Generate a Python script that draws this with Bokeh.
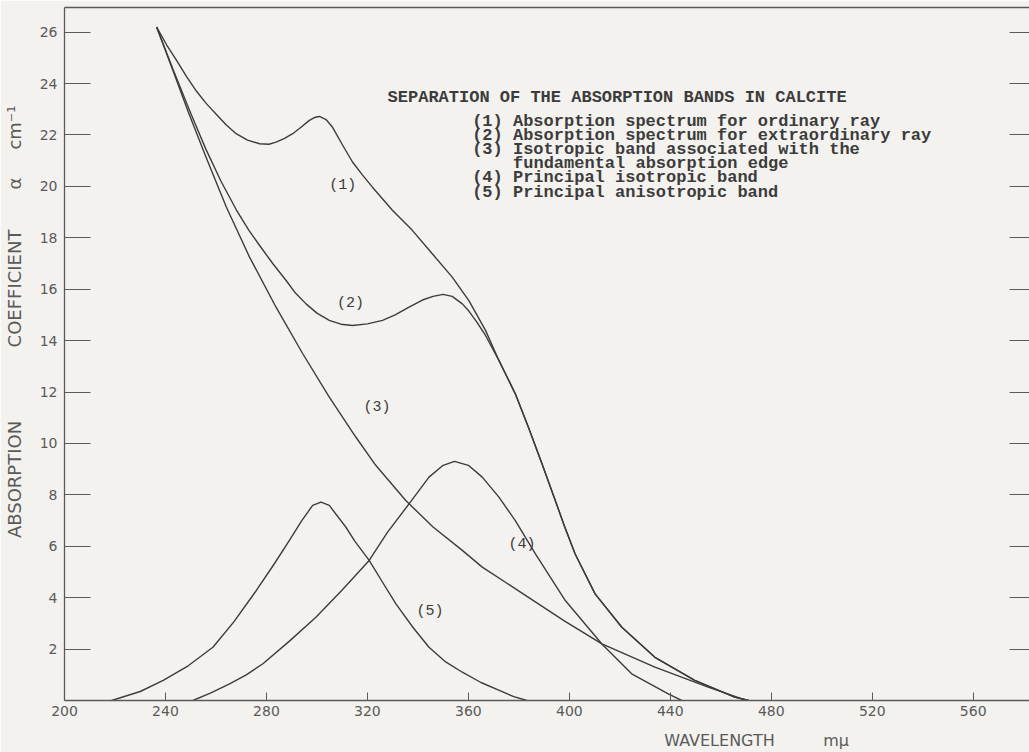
from bokeh.plotting import figure
from bokeh.models import LinearAxis, FixedTicker, Range1d
from bokeh.embed import file_html
from bokeh.resources import INLINE
from bokeh.core.properties import value

# ---------------- data ----------------
# wavelength in m-mu, absorption coefficient in cm^-1
ord_x = [236.5, 240.5, 244.4, 248.3, 252.3, 256.2, 260.2, 264.0, 268.0, 272.5, 277.3,
         281.0, 283.8, 287.0, 290.4, 293.7, 297.0, 299.0, 301.0, 303.6, 306.2, 310.2,
         314.1, 318.0, 322.0, 329.9, 337.8, 345.7, 353.6, 360.2, 366.8, 372.1, 378.6,
         383.9, 389.2, 394.0, 398.0, 402.3, 410.2, 420.8, 433.9, 449.7, 465.5, 471.0]
ord_y = [26.2, 25.5, 24.9, 24.28, 23.7, 23.22, 22.8, 22.4, 22.05, 21.8, 21.66,
         21.64, 21.72, 21.86, 22.05, 22.3, 22.57, 22.68, 22.72, 22.6, 22.3, 21.6,
         20.95, 20.45, 19.97, 19.07, 18.29, 17.38, 16.47, 15.56, 14.4, 13.23, 11.93,
         10.6, 9.2, 7.9, 6.8, 5.7, 4.15, 2.85, 1.68, 0.78, 0.13, 0.0]

ext_x = [236.5, 243.0, 250.0, 256.0, 262.0, 268.0, 273.0, 277.3, 282.5, 287.8, 291.5,
         295.7, 300.0, 304.9, 309.5, 314.1, 320.0, 326.0, 331.0, 336.5, 341.8, 346.0,
         350.0, 353.6, 357.6, 360.2, 363.5, 366.8, 372.1, 378.6, 383.9, 389.2, 394.0,
         398.0, 402.3, 410.2, 420.8, 433.9, 449.7, 465.5, 471.0]
ext_y = [26.2, 24.55, 22.85, 21.45, 20.2, 19.1, 18.3, 17.7, 17.0, 16.34, 15.85,
         15.43, 15.07, 14.79, 14.64, 14.59, 14.65, 14.79, 15.0, 15.3, 15.58, 15.72,
         15.8, 15.72, 15.43, 15.15, 14.7, 14.2, 13.23, 11.93, 10.6, 9.2, 7.9,
         6.8, 5.7, 4.15, 2.85, 1.68, 0.78, 0.13, 0.0]

iso_x = [236.5, 243.0, 249.0, 256.0, 264.1, 273.3, 283.8, 294.4, 304.9, 315.4, 323.3,
         335.2, 346.0, 357.6, 365.5, 382.6, 398.0, 412.9, 433.9, 455.0, 468.2, 471.0]
iso_y = [26.2, 24.5, 22.9, 21.15, 19.2, 17.25, 15.3, 13.49, 11.8, 10.25, 9.15,
         7.78, 6.75, 5.84, 5.19, 4.09, 3.1, 2.2, 1.3, 0.52, 0.07, 0.0]

pib_x = [250.9, 258.0, 265.4, 272.0, 278.6, 289.0, 299.6, 310.0, 320.7, 328.0, 336.5,
         344.4, 350.0, 354.5, 360.0, 365.5, 372.1, 378.6, 386.5, 398.4, 412.9, 424.7,
         439.2, 444.5]
pib_y = [0.0, 0.3, 0.65, 1.0, 1.43, 2.3, 3.24, 4.3, 5.45, 6.55, 7.65,
         8.69, 9.15, 9.3, 9.15, 8.69, 7.91, 7.0, 5.71, 3.89, 2.2, 1.04,
         0.26, 0.0]

pab_x = [218.7, 230.0, 239.1, 249.0, 258.8, 267.0, 276.0, 283.0, 289.1, 294.0, 298.3,
         301.6, 304.9, 311.5, 315.0, 320.7, 326.0, 331.3, 338.0, 344.4, 351.0, 357.6,
         365.0, 372.0, 378.0, 383.2]
pab_y = [0.0, 0.35, 0.78, 1.35, 2.07, 3.05, 4.28, 5.3, 6.23, 7.0, 7.59,
         7.72, 7.59, 6.74, 6.2, 5.45, 4.6, 3.76, 2.85, 2.07, 1.5, 1.1,
         0.7, 0.4, 0.15, 0.0]

x_ticks = [200, 240, 280, 320, 360, 400, 440, 480, 520, 560]
y_ticks = [2, 4, 6, 8, 10, 12, 14, 16, 18, 20, 22, 24, 26]

title_text = "SEPARATION OF THE ABSORPTION BANDS IN CALCITE"
legend_lines = ["(1) Absorption spectrum for ordinary ray",
                "(2) Absorption spectrum for extraordinary ray",
                "(3) Isotropic band associated with the",
                "fundamental absorption edge",
                "(4) Principal isotropic band",
                "(5) Principal anisotropic band"]
curve_tags = ["(1)", "(2)", "(3)", "(4)", "(5)"]

# ---------------- styling ----------------
PAPER = "#f3f2ee"
INK = "#3c3c3c"
PENCIL = "#5a5a5a"
HAND = "DejaVu Sans"
TYPE = "Liberation Mono"

p = figure(width=1029, height=752,
           x_range=Range1d(200, 582.3), y_range=Range1d(0, 26.96),
           output_backend="svg", toolbar_location=None,
           min_border_left=61, min_border_top=7, min_border_bottom=52,
           min_border_right=0,
           background_fill_color=PAPER, border_fill_color=PAPER)
p.xgrid.visible = False
p.ygrid.visible = False
p.outline_line_color = None

p.extra_x_ranges = {"px": Range1d(61, 1029)}
p.extra_y_ranges = {"py": Range1d(0, 693)}

# primary axes
xa = p.xaxis[0]
xa.ticker = FixedTicker(ticks=x_ticks)
xa.major_tick_in = 8
xa.major_tick_out = 0
xa.minor_tick_line_color = None
xa.axis_line_color = PENCIL
xa.axis_line_width = 1.3
xa.major_tick_line_color = PENCIL
xa.major_label_standoff = 5
xa.major_label_text_font = HAND
xa.major_label_text_font_size = "14px"
xa.major_label_text_color = PENCIL

ya = p.yaxis[0]
ya.ticker = FixedTicker(ticks=y_ticks)
ya.major_tick_in = 26
ya.major_tick_out = 0
ya.minor_tick_line_color = None
ya.axis_line_color = PENCIL
ya.axis_line_width = 1.3
ya.major_tick_line_color = PENCIL
ya.major_label_standoff = 7
ya.major_label_text_font = HAND
ya.major_label_text_font_size = "14px"
ya.major_label_text_color = PENCIL

# axis titles as lettering placed along the margins
xt = LinearAxis(x_range_name="px", ticker=FixedTicker(ticks=[718, 835]),
                major_label_overrides={718: "WAVELENGTH", 835: "mμ"},
                axis_line_color=None, major_tick_line_color=None,
                minor_tick_line_color=None, major_label_standoff=6,
                major_label_text_font=HAND, major_label_text_font_size="16px",
                major_label_text_color=PENCIL)
p.add_layout(xt, "below")

yt = LinearAxis(y_range_name="py", ticker=FixedTicker(ticks=[221, 412, 517, 573]),
                major_label_overrides={221: "ABSORPTION", 412: "COEFFICIENT",
                                       517: "α", 573: "cm⁻¹"},
                major_label_orientation="vertical",
                axis_line_color=None, major_tick_line_color=None,
                minor_tick_line_color=None, major_label_standoff=6,
                major_label_text_font=HAND, major_label_text_font_size="18px",
                major_label_text_color=PENCIL)
p.add_layout(yt, "left")

ra = LinearAxis(ticker=FixedTicker(ticks=y_ticks),
                major_label_overrides={t: "" for t in y_ticks},
                axis_line_color=None, major_tick_line_color=PENCIL,
                major_tick_in=20, major_tick_out=0, minor_tick_line_color=None,
                major_label_standoff=0)
p.add_layout(ra, "right")

ta = LinearAxis(ticker=FixedTicker(ticks=[]), axis_line_color=PENCIL,
                axis_line_width=1.3, major_tick_line_color=None,
                minor_tick_line_color=None, major_label_standoff=0)
p.add_layout(ta, "above")

# curves
for xs, ys in [(ord_x, ord_y), (ext_x, ext_y), (iso_x, iso_y),
               (pib_x, pib_y), (pab_x, pab_y)]:
    p.line(xs, ys, line_color=INK, line_width=1.4, line_join="round")

# curve tags
p.text(x=[310.2, 313.3, 323.8, 381.2, 344.8], y=[20.04, 15.45, 11.4, 6.05, 3.45],
       text=curve_tags, text_font=value(TYPE), text_font_size="15px",
       text_color=INK, text_align="center", text_baseline="middle")

# title block
p.text(x=[328.0], y=[23.46], text=[title_text], text_font=value(TYPE),
       text_font_size="17px", text_font_style="bold", text_color=INK,
       text_align="left", text_baseline="middle")
p.text(x=[361.5, 361.5, 361.5, 377.7, 361.5, 361.5],
       y=[22.53, 21.98, 21.42, 20.88, 20.33, 19.77],
       text=legend_lines, text_font=value(TYPE), text_font_size="17px",
       text_font_style="bold", text_color=INK,
       text_align="left", text_baseline="middle")

open("out.html", "w").write(file_html(p, INLINE))
